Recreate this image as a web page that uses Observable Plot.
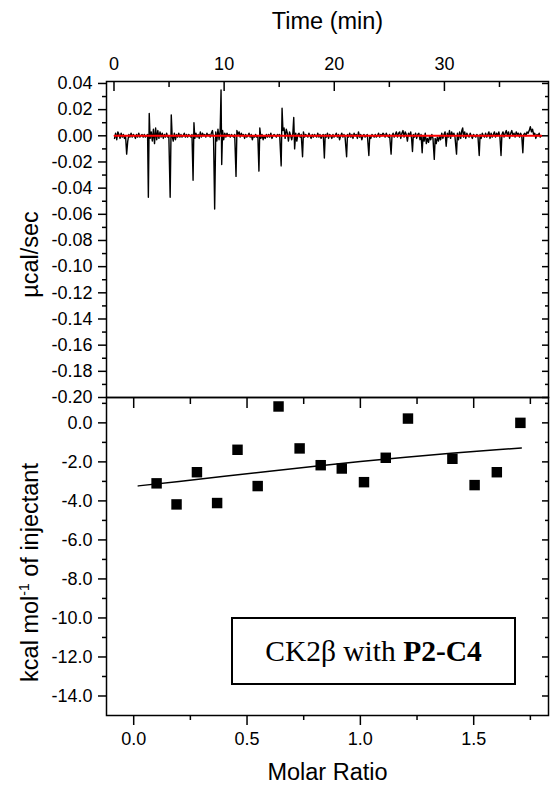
<!DOCTYPE html>
<html><head><meta charset="utf-8">
<script src="https://cdn.jsdelivr.net/npm/d3@7"></script>
<script src="https://cdn.jsdelivr.net/npm/@observablehq/plot@0.6"></script>
<style>
body{margin:0;background:#fff;}
#wrap{position:relative;width:551px;height:785px;overflow:hidden;background:#fff;}
#top,#bot{position:absolute;left:0;}
#top{top:0;} #bot{top:390px;}
#box{position:absolute;left:231px;top:617px;width:285px;height:68px;box-sizing:border-box;border:2px solid #000;display:flex;align-items:center;justify-content:center;font-family:"Liberation Serif","Times New Roman",serif;font-size:29.5px;color:#000;background:#fff;}
</style></head><body>
<div id="wrap"><div id="top"></div><div id="bot"></div><div id="box"><span>CK2β with <b>P2-C4</b></span></div></div>
<script>
// ---- top panel: raw ITC trace ----
const timeTicks = [0, 10, 20, 30];
const timeMinor = [5, 15, 25, 35];
const heatTicks = [0.04, 0.02, 0, -0.02, -0.04, -0.06, -0.08, -0.10, -0.12, -0.14, -0.16, -0.18, -0.20];
const heatMinor = [0.03, 0.01, -0.01, -0.03, -0.05, -0.07, -0.09, -0.11, -0.13, -0.15, -0.17, -0.19];
const trace = [
[0.05,-0.002],[0.15,0.002],[0.25,-0.003],[0.35,0.003],[0.45,0.001],[0.55,-0.002],[0.65,0.002],[0.75,-0.001],[0.85,0.001],[0.95,-0.002],[1.05,0.000],[1.15,-0.014],[1.25,-0.004],[1.35,0.001],[1.45,-0.001],[1.55,0.002],[1.65,-0.001],[1.75,0.001],[1.85,0.000],[1.95,-0.002],[2.05,0.001],[2.15,-0.001],[2.25,0.002],[2.35,-0.001],[2.45,0.000],[2.55,0.001],[2.65,-0.001],[2.75,0.001],[2.85,-0.001],[2.95,0.000],[3.05,0.001],
[3.12,-0.047],[3.2,0.017],[3.28,-0.002],[3.38,0.003],[3.48,-0.004],[3.58,0.005],[3.68,-0.006],[3.78,0.006],[3.88,-0.003],[3.98,0.004],[4.08,-0.002],[4.18,0.003],[4.28,-0.001],[4.38,0.002],[4.48,-0.002],[4.58,0.001],[4.68,-0.001],[4.78,0.002],[4.88,-0.001],[4.98,0.000],
[5.1,-0.047],[5.2,0.016],[5.28,0.000],[5.38,-0.004],[5.48,0.002],[5.58,-0.003],[5.68,0.001],[5.78,-0.001],[5.88,0.002],[5.98,-0.001],[6.08,0.001],[6.18,-0.001],[6.28,0.000],[6.38,0.002],[6.48,-0.001],[6.58,0.001],[6.68,-0.001],[6.78,0.001],[6.88,0.000],[6.98,-0.001],[7.08,0.001],
[7.18,-0.034],[7.26,0.010],[7.34,-0.002],[7.44,0.002],[7.54,-0.001],[7.64,0.001],[7.74,-0.002],[7.84,0.003],[7.94,-0.001],[8.04,0.002],[8.14,0.000],[8.24,0.001],[8.34,-0.001],[8.44,0.002],[8.54,0.000],[8.64,0.001],[8.74,-0.001],[8.84,0.002],[8.94,0.004],[9.04,-0.002],
[9.14,-0.056],[9.24,0.003],[9.34,-0.004],[9.44,0.005],[9.54,-0.003],[9.64,0.004],[9.72,0.035],[9.78,-0.022],[9.86,0.004],[9.96,-0.003],[10.06,0.002],[10.16,-0.001],[10.26,0.002],[10.36,0.000],[10.46,0.001],[10.56,-0.001],[10.66,0.001],[10.76,0.000],[10.86,-0.001],[10.96,0.001],
[11.08,-0.031],[11.16,0.004],[11.26,0.001],[11.36,0.003],[11.46,-0.001],[11.56,0.002],[11.66,0.000],[11.76,0.001],[11.86,-0.002],[11.96,0.001],[12.06,-0.001],[12.16,0.000],[12.26,0.002],[12.36,-0.001],[12.46,0.001],[12.56,-0.003],[12.66,0.000],[12.76,-0.001],[12.86,0.001],[12.96,-0.001],[13.06,0.000],
[13.16,-0.027],[13.24,0.006],[13.34,-0.002],[13.44,0.001],[13.54,-0.003],[13.64,0.000],[13.74,-0.002],[13.84,0.001],[13.94,-0.001],[14.04,0.001],[14.14,-0.001],[14.24,0.002],[14.34,-0.002],[14.44,0.000],[14.54,0.001],[14.64,0.000],[14.74,-0.001],[14.84,0.001],[14.94,0.000],[15.04,0.001],
[15.18,-0.023],[15.26,0.021],[15.34,0.004],[15.44,0.006],[15.54,-0.002],[15.64,0.005],[15.74,0.002],[15.84,-0.004],[15.94,0.003],[16.04,0.000],[16.14,-0.003],[16.24,0.002],[16.32,0.014],[16.4,-0.010],[16.5,0.002],[16.6,-0.004],[16.7,0.001],[16.8,0.002],[16.9,-0.001],[17.0,0.001],
[17.12,-0.016],[17.2,0.003],[17.3,-0.001],[17.4,0.001],[17.5,0.000],[17.6,-0.001],[17.7,0.002],[17.8,0.000],[17.9,-0.002],[18.0,0.001],[18.1,-0.001],[18.2,0.001],[18.3,0.000],[18.4,-0.001],[18.5,0.002],[18.6,-0.001],[18.7,0.001],[18.8,-0.002],[18.9,0.000],[19.0,0.001],
[19.1,-0.017],[19.18,0.001],[19.28,-0.001],[19.38,0.002],[19.48,-0.002],[19.58,0.001],[19.68,0.000],[19.78,-0.002],[19.88,0.001],[19.98,-0.001],[20.08,0.000],[20.18,0.002],[20.28,-0.001],[20.38,0.001],[20.48,-0.003],[20.58,0.000],[20.68,0.002],[20.78,-0.001],[20.88,0.001],[20.98,-0.001],
[21.12,-0.016],[21.2,0.001],[21.3,-0.001],[21.4,0.002],[21.5,-0.001],[21.6,0.001],[21.7,-0.002],[21.8,0.002],[21.9,0.000],[22.0,0.001],[22.1,-0.002],[22.2,0.003],[22.3,-0.001],[22.4,0.001],[22.5,-0.003],[22.6,0.000],[22.7,0.001],[22.8,-0.001],[22.9,0.000],[23.0,0.001],
[23.14,-0.015],[23.22,0.000],[23.32,-0.002],[23.42,0.001],[23.52,0.000],[23.62,-0.001],[23.72,0.001],[23.82,-0.001],[23.92,0.000],[24.02,0.002],[24.12,-0.001],[24.22,0.001],[24.32,0.000],[24.42,0.002],[24.52,0.001],[24.62,-0.001],[24.72,0.002],[24.82,0.000],[24.92,-0.001],[25.02,0.001],
[25.16,-0.014],[25.24,0.000],[25.34,0.002],[25.44,-0.001],[25.54,0.001],[25.64,0.003],[25.74,-0.001],[25.84,0.002],[25.94,0.003],[26.04,-0.002],[26.14,0.002],[26.24,0.004],[26.34,-0.001],[26.44,0.003],[26.54,0.001],[26.64,-0.004],[26.74,0.002],[26.84,0.000],[26.94,0.003],[27.02,-0.002],
[27.1,-0.012],[27.18,0.001],[27.28,-0.001],[27.38,0.002],[27.48,-0.002],[27.58,0.001],[27.68,0.002],[27.78,-0.003],[27.88,0.001],[27.98,-0.013],[28.06,0.000],[28.16,-0.004],[28.26,0.002],[28.36,-0.006],[28.46,-0.002],[28.56,-0.005],[28.66,0.000],[28.76,-0.003],[28.86,0.001],[28.96,-0.002],
[29.08,-0.018],[29.16,-0.002],[29.26,-0.006],[29.36,-0.001],[29.46,-0.004],[29.56,0.000],[29.66,-0.003],[29.76,0.002],[29.86,-0.002],[29.96,0.001],[30.06,0.003],[30.16,-0.008],[30.26,0.002],[30.36,-0.001],[30.46,0.004],[30.56,-0.002],[30.66,0.003],[30.76,0.000],[30.86,0.002],[30.96,-0.001],
[31.1,-0.014],[31.18,0.002],[31.28,-0.003],[31.38,0.003],[31.48,-0.002],[31.58,0.004],[31.66,0.006],[31.74,-0.001],[31.84,0.003],[31.94,-0.002],[32.04,0.002],[32.14,0.000],[32.24,-0.001],[32.34,0.002],[32.44,0.000],[32.54,-0.002],[32.64,0.001],[32.74,0.000],[32.84,-0.001],[32.94,0.001],[33.04,0.000],
[33.16,-0.015],[33.24,0.001],[33.34,-0.002],[33.44,0.002],[33.54,0.000],[33.64,-0.001],[33.74,0.002],[33.84,-0.001],[33.94,0.001],[34.04,0.003],[34.14,-0.002],[34.24,0.002],[34.34,-0.001],[34.44,0.001],[34.54,0.003],[34.64,-0.001],[34.74,0.002],[34.84,0.000],[34.94,0.003],[35.04,-0.001],
[35.14,-0.015],[35.22,0.001],[35.32,0.003],[35.42,-0.001],[35.52,0.002],[35.62,0.004],[35.72,0.000],[35.82,0.003],[35.92,-0.002],[36.02,0.002],[36.12,0.004],[36.22,0.000],[36.32,0.002],[36.42,-0.001],[36.52,0.003],[36.62,0.001],[36.72,0.002],[36.82,-0.001],[36.92,0.002],[37.02,0.000],
[37.12,-0.013],[37.2,0.001],[37.3,0.002],[37.4,0.000],[37.5,0.003],[37.6,0.002],[37.7,0.004],[37.8,0.007],[37.9,0.003],[38.0,0.005],[38.1,0.001],[38.2,0.002],[38.3,-0.002],[38.4,0.001],[38.5,0.000],[38.6,0.002],[38.7,-0.001],[38.8,0.000]
];
const baselineTime = [0.05, 38.8];
const baselineHeat = [0, 0];

// ---- bottom panel: integrated heats ----
const ratioTicks = [0, 0.5, 1.0, 1.5];
const ratioMinor = [0.25, 0.75, 1.25, 1.75];
const dhTicks = [0, -2, -4, -6, -8, -10, -12, -14];
const dhMinor = [1, -1, -3, -5, -7, -9, -11, -13];
const molarRatio = [0.101, 0.189, 0.279, 0.368, 0.458, 0.547, 0.639, 0.732, 0.825, 0.918, 1.016, 1.112, 1.210, 1.406, 1.504, 1.602, 1.706];
const enthalpy   = [-3.10, -4.18, -2.53, -4.11, -1.38, -3.24, 0.84, -1.31, -2.17, -2.34, -3.04, -1.79, 0.22, -1.84, -3.19, -2.53, 0.00];
const fitRatio    = [0.02, 0.2, 0.4, 0.6, 0.8, 1.0, 1.2, 1.4, 1.6, 1.71];
const fitEnthalpy = [-3.23, -3.00, -2.74, -2.48, -2.22, -1.98, -1.76, -1.56, -1.38, -1.29];

const fontFamily = '"Liberation Sans", Arial, sans-serif';
const baseStyle = {background: "transparent", fontFamily, fontSize: "18px", color: "#000", overflow: "visible"};
const blank = () => "";
const titleSize = 23.5;

const topPlot = Plot.plot({
  width: 551, height: 400, marginTop: 81, marginBottom: 3, marginLeft: 106, marginRight: 3,
  style: baseStyle,
  x: {domain: [-0.68, 39.45]},
  y: {domain: [-0.2, 0.0415]},
  marks: [
    Plot.line(trace, {x: d => d[0], y: d => d[1], stroke: "#000", strokeWidth: 1.4}),
    Plot.line(baselineTime, {x: d => d, y: (d, i) => baselineHeat[i], stroke: "#ff0000", strokeWidth: 2}),
    Plot.axisX({anchor: "top", ticks: timeTicks, tickSize: 0, tickPadding: 12, tickFormat: d => String(d), label: null}),
    Plot.axisX({anchor: "top", ticks: timeTicks, tickSize: -9, tickFormat: blank, label: null, strokeWidth: 1.5}),
    Plot.axisX({anchor: "top", ticks: timeMinor, tickSize: -5, tickFormat: blank, label: null, strokeWidth: 1.5}),
    Plot.axisY({anchor: "left", ticks: heatTicks, tickSize: 8, tickPadding: 6, tickFormat: d => d.toFixed(2), label: null, strokeWidth: 1.5}),
    Plot.axisY({anchor: "left", ticks: heatMinor, tickSize: 4, tickFormat: blank, label: null, strokeWidth: 1.5}),
    Plot.axisY({anchor: "right", ticks: heatTicks, tickSize: -7, tickFormat: blank, label: null, strokeWidth: 1.5}),
    Plot.axisY({anchor: "right", ticks: heatMinor, tickSize: -4, tickFormat: blank, label: null, strokeWidth: 1.5}),
    Plot.frame({stroke: "#000", strokeWidth: 1.5}),
    Plot.text(["Time (min)"], {text: d => d, frameAnchor: "top", dy: -60, fontSize: titleSize, textAnchor: "middle", lineAnchor: "middle"}),
    Plot.text(["µcal/sec"], {text: d => d, frameAnchor: "left", dx: -76, dy: 15, rotate: -90, fontSize: titleSize, textAnchor: "middle", lineAnchor: "middle"})
  ]
});
document.getElementById("top").appendChild(topPlot);

const ylab2 = "kcal mol-1 of injectant";
const botPlot = Plot.plot({
  width: 551, height: 395, marginTop: 7, marginBottom: 70, marginLeft: 106, marginRight: 3,
  style: baseStyle,
  x: {domain: [-0.12, 1.83]},
  y: {domain: [-15, 1.3]},
  marks: [
    Plot.line(fitRatio, {x: d => d, y: (d, i) => fitEnthalpy[i], stroke: "#000", strokeWidth: 1.5}),
    Plot.dot(molarRatio, {x: d => d, y: (d, i) => enthalpy[i], symbol: "square", r: 5.9, fill: "#000", stroke: null}),
    Plot.axisX({anchor: "bottom", ticks: ratioTicks, tickSize: 10, tickPadding: 7, tickFormat: d => d.toFixed(1), label: null, strokeWidth: 1.5}),
    Plot.axisX({anchor: "bottom", ticks: ratioMinor, tickSize: 5, tickFormat: blank, label: null, strokeWidth: 1.5}),
    Plot.axisX({anchor: "top", ticks: ratioTicks, tickSize: -10, tickFormat: blank, label: null, strokeWidth: 1.5}),
    Plot.axisX({anchor: "top", ticks: ratioMinor, tickSize: -6, tickFormat: blank, label: null, strokeWidth: 1.5}),
    Plot.axisY({anchor: "left", ticks: dhTicks, tickSize: 8, tickPadding: 6, tickFormat: d => d.toFixed(1), label: null, strokeWidth: 1.5}),
    Plot.axisY({anchor: "left", ticks: dhMinor, tickSize: 4, tickFormat: blank, label: null, strokeWidth: 1.5}),
    Plot.axisY({anchor: "right", ticks: dhTicks, tickSize: -7, tickFormat: blank, label: null, strokeWidth: 1.5}),
    Plot.axisY({anchor: "right", ticks: dhMinor, tickSize: -4, tickFormat: blank, label: null, strokeWidth: 1.5}),
    Plot.frame({stroke: "#000", strokeWidth: 1.5}),
    Plot.text(["Molar Ratio"], {text: d => d, frameAnchor: "bottom", dy: 57, fontSize: titleSize, textAnchor: "middle", lineAnchor: "middle"}),
    Plot.text([ylab2], {text: d => d, frameAnchor: "left", dx: -76, dy: 16, rotate: -90, fontSize: titleSize, textAnchor: "middle", lineAnchor: "middle"})
  ]
});
document.getElementById("bot").appendChild(botPlot);

// superscript for mol-1
d3.select(botPlot).selectAll("text").filter(function() { return this.textContent === ylab2; }).each(function() {
  const t = d3.select(this);
  t.text(null);
  t.append("tspan").text("kcal mol");
  t.append("tspan").attr("dy", -9).attr("font-size", 14).text("-1");
  t.append("tspan").attr("dy", 9).text(" of injectant");
});
</script>
</body></html>
